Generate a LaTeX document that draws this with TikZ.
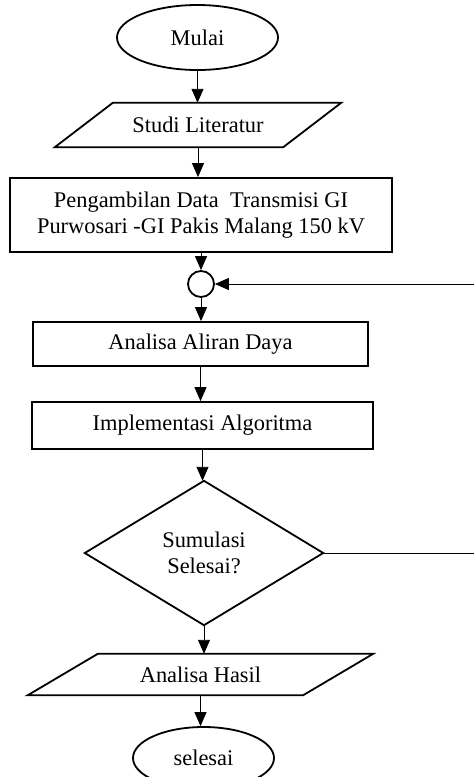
\documentclass[tikz,border=0pt]{standalone}
\usepackage{fontspec}
\setmainfont{Liberation Serif}
\usetikzlibrary{arrows.meta,shapes.geometric}
\tikzset{
  shapeline/.style={line width=1.8pt},
  conn/.style={line width=0.9pt,-{Triangle[length=14pt,width=12pt]}},
  plainconn/.style={line width=0.9pt},
  ghost/.style={rectangle,inner sep=0pt,align=center,font=\fontsize{22.4}{26}\selectfont},
  boxnode/.style={ghost,draw,shapeline},
  termnode/.style={ellipse,draw,shapeline,inner sep=0pt,font=\fontsize{22.4}{26}\selectfont},
}
\begin{document}
\begin{tikzpicture}[x=1pt,y=-1pt]
\useasboundingbox (0,0) rectangle (474,777);
% nodes
\node[termnode,minimum width=161pt,minimum height=65pt] (mulai) at (197.5,37.5) {Mulai};
\node[ghost,minimum width=228pt,minimum height=44pt] (studi) at (198,125) {Studi Literatur};
\node[boxnode,minimum width=382pt,minimum height=74pt] (data) at (201,215) {Pengambilan Data~~Transmisi GI\\Purwosari -GI Pakis Malang 150 kV};
\node[circle,draw,shapeline,minimum size=26pt,inner sep=0pt] (junc) at (201,284) {};
\node[boxnode,minimum width=335pt,minimum height=44pt] (aliran) at (200.5,344) {Analisa Aliran Daya};
\node[boxnode,minimum width=341pt,minimum height=47pt] (impl) at (202.5,425.5) {Implementasi Algoritma};
\node[ghost,minimum width=238pt,minimum height=144pt] (dec) at (204,553) {Sumulasi\\Selesai?};
\node[ghost,minimum width=275pt,minimum height=41pt] (hasil) at (200.5,674.5) {Analisa Hasil};
\node[termnode,minimum width=141pt,minimum height=62pt] (selesai) at (203.5,758) {selesai};
\coordinate (rin) at (474,284);
\coordinate (rout) at (474,553);
% shapes drawn from ghost nodes
\draw[shapeline] ([xshift=29pt]studi.north west) -- ([xshift=29pt]studi.north east)
  -- ([xshift=-29pt]studi.south east) -- ([xshift=-29pt]studi.south west) -- cycle;
\draw[shapeline] (dec.north) -- (dec.east) -- (dec.south) -- (dec.west) -- cycle;
\draw[shapeline] ([xshift=35pt]hasil.north west) -- ([xshift=35pt]hasil.north east)
  -- ([xshift=-35pt]hasil.south east) -- ([xshift=-35pt]hasil.south west) -- cycle;
% connectors
\draw[conn] (mulai.south) -- (mulai.south |- studi.north);
\draw[conn] (studi.south) -- (studi.south |- data.north);
\draw[conn] (junc.north |- data.south) -- (junc.north);
\draw[conn] (junc.south) -- (junc.south |- aliran.north);
\draw[conn] (aliran.south) -- (aliran.south |- impl.north);
\draw[conn] (impl.south) -- (impl.south |- dec.north);
\draw[conn] (dec.south) -- (dec.south |- hasil.north);
\draw[conn] (hasil.south) -- (hasil.south |- selesai.north);
\draw[conn] (rin) -- (junc.east);
\draw[plainconn] (dec.east) -- (rout);
\end{tikzpicture}
\end{document}
